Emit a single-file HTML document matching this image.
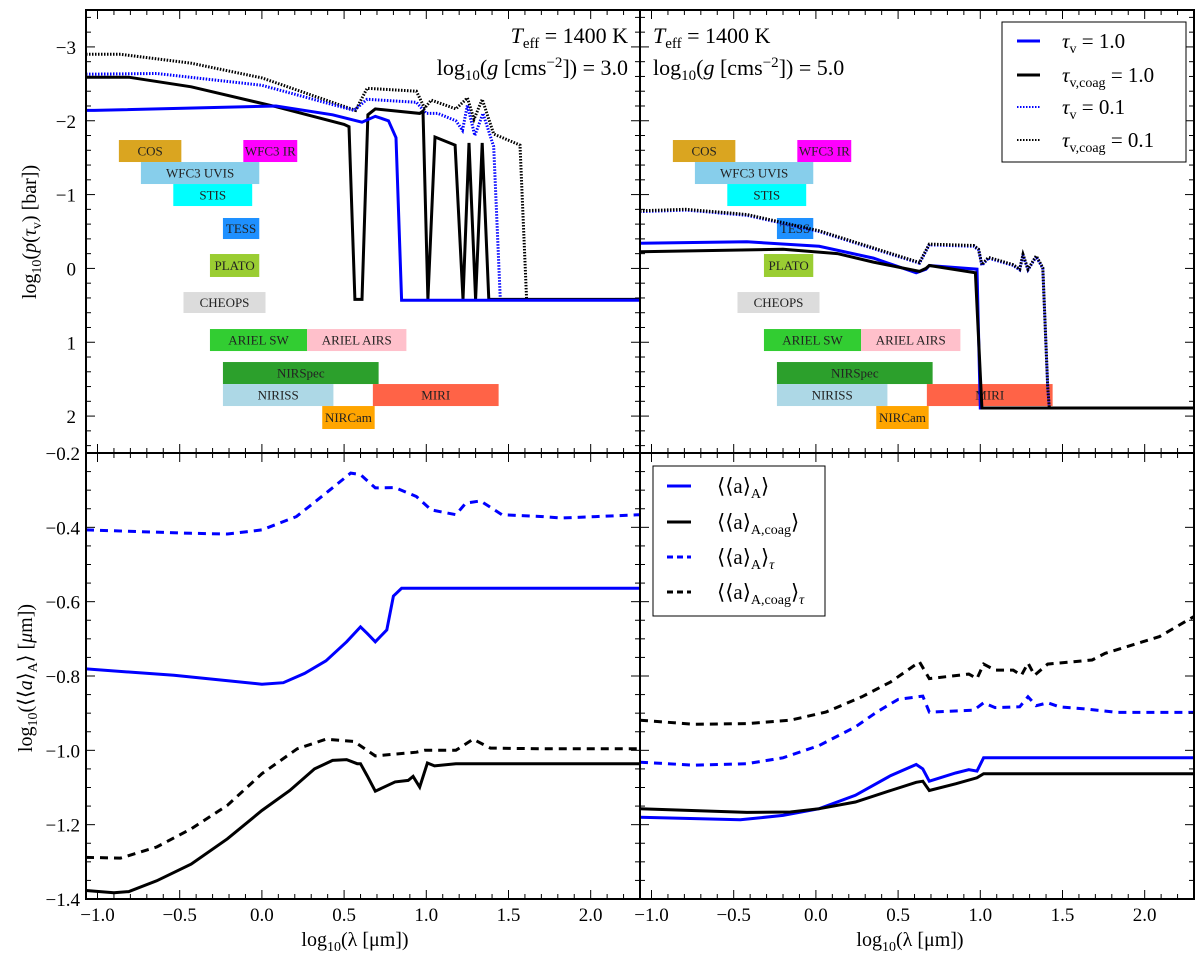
<!DOCTYPE html>
<html><head><meta charset="utf-8">
<style>
html,body{margin:0;padding:0;background:#fff;}
svg{display:block;font-family:"Liberation Serif","DejaVu Serif",serif;}
</style></head>
<body>
<svg id="chart" width="1200" height="955" viewBox="0 0 1200 955" xmlns="http://www.w3.org/2000/svg">
<g id="layer"></g>
</svg>
<script>
// ---------- data ----------
const TL_tau1_x=[-1.07,-1.02,0.086,0.43,0.609,0.69,0.77,0.816,0.85,2.3];
const TL_tau1_y=[-2.14,-2.14,-2.2,-2.08,-1.98,-2.06,-2.0,-1.77,0.43,0.43];
const TL_coag1_x=[-1.07,-0.81,-0.43,0.086,0.50,0.53,0.566,0.609,0.645,0.69,0.96,0.98,1.01,1.053,1.175,1.223,1.26,1.30,1.34,1.38,2.3];
const TL_coag1_y=[-2.59,-2.59,-2.46,-2.19,-1.95,-1.92,0.42,0.42,-2.08,-2.16,-2.1,-2.13,0.42,-1.78,-1.67,0.42,-1.7,0.42,-1.7,0.42,0.42];
const TL_tau01_x=[-1.07,-0.64,0.0,0.56,0.64,0.94,1.0,1.07,1.18,1.22,1.25,1.295,1.345,1.41,1.45];
const TL_tau01_y=[-2.63,-2.64,-2.48,-2.14,-2.29,-2.25,-2.1,-2.1,-2.0,-1.87,-2.21,-1.8,-2.1,-1.65,0.42];
const TL_coag01_x=[-1.07,-0.86,-0.43,0.0,0.57,0.64,0.94,0.99,1.03,1.18,1.25,1.29,1.34,1.41,1.57,1.61];
const TL_coag01_y=[-2.9,-2.9,-2.78,-2.58,-2.14,-2.44,-2.4,-2.17,-2.28,-2.16,-2.31,-2.02,-2.29,-1.82,-1.67,0.42];

const TR_tau1_x=[-1.07,-0.42,0.02,0.35,0.61,0.67,0.69,0.98,1.0,2.3];
const TR_tau1_y=[-0.34,-0.36,-0.30,-0.14,0.06,0.01,-0.04,0.01,1.89,1.89];
const TR_coag1_x=[-1.07,-0.20,0.13,0.35,0.63,0.67,0.69,0.97,1.01,2.3];
const TR_coag1_y=[-0.225,-0.26,-0.2,-0.085,0.04,0.0,-0.04,0.06,1.89,1.89];
const TR_tau01_x=[-1.07,-0.79,-0.42,0.02,0.63,0.69,0.96,0.99,1.01,1.05,1.20,1.24,1.26,1.29,1.34,1.38,1.41,1.42];
const TR_tau01_y=[-0.77,-0.79,-0.72,-0.5,-0.07,-0.32,-0.3,-0.25,-0.04,-0.14,-0.04,0.02,-0.18,0.02,-0.16,0.0,1.6,1.89];
const TR_coag01_x=[-1.07,-0.79,-0.42,0.02,0.63,0.69,0.96,0.99,1.01,1.05,1.20,1.24,1.26,1.29,1.34,1.38,1.41,1.42];
const TR_coag01_y=[-0.78,-0.8,-0.73,-0.51,-0.08,-0.33,-0.31,-0.26,-0.05,-0.15,-0.05,0.01,-0.19,0.01,-0.17,-0.01,1.6,1.89];

const BL_a_x=[-1.07,-0.535,0.0,0.13,0.26,0.39,0.515,0.60,0.64,0.69,0.76,0.80,0.85,2.3];
const BL_a_y=[-0.781,-0.798,-0.822,-0.818,-0.793,-0.759,-0.708,-0.668,-0.685,-0.708,-0.676,-0.585,-0.564,-0.564];
const BL_ac_x=[-1.07,-0.9,-0.81,-0.64,-0.43,-0.21,0.0,0.17,0.32,0.43,0.515,0.58,0.60,0.64,0.69,0.81,0.89,0.92,0.96,1.007,1.05,1.18,2.3];
const BL_ac_y=[-1.377,-1.383,-1.38,-1.351,-1.306,-1.238,-1.162,-1.108,-1.05,-1.027,-1.025,-1.036,-1.036,-1.068,-1.11,-1.085,-1.081,-1.07,-1.099,-1.034,-1.042,-1.036,-1.036];
const BL_at_x=[-1.07,-0.43,-0.21,0.0,0.21,0.39,0.54,0.60,0.69,0.81,0.94,1.03,1.18,1.24,1.33,1.46,1.71,1.82,2.03,2.3];
const BL_at_y=[-0.407,-0.416,-0.418,-0.407,-0.371,-0.308,-0.254,-0.258,-0.294,-0.293,-0.317,-0.353,-0.366,-0.335,-0.329,-0.366,-0.371,-0.375,-0.371,-0.366];
const BL_act_x=[-1.07,-0.86,-0.64,-0.43,-0.21,0.0,0.215,0.39,0.56,0.69,0.94,0.99,1.18,1.285,1.39,1.71,2.3];
const BL_act_y=[-1.288,-1.29,-1.26,-1.211,-1.148,-1.063,-0.996,-0.970,-0.976,-1.015,-1.005,-1.0,-1.0,-0.970,-0.994,-0.996,-0.996];

const BR_a_x=[-1.07,-0.46,-0.20,0.02,0.24,0.455,0.61,0.65,0.69,0.85,0.93,0.98,1.02,2.3];
const BR_a_y=[-1.18,-1.187,-1.175,-1.157,-1.121,-1.068,-1.038,-1.05,-1.083,-1.061,-1.052,-1.056,-1.02,-1.02];
const BR_ac_x=[-1.07,-0.42,-0.155,0.02,0.24,0.455,0.61,0.65,0.69,0.85,0.98,1.02,2.3];
const BR_ac_y=[-1.157,-1.167,-1.166,-1.157,-1.139,-1.108,-1.086,-1.083,-1.108,-1.09,-1.074,-1.063,-1.063];
const BR_at_x=[-1.07,-0.74,-0.42,-0.20,0.02,0.24,0.37,0.50,0.65,0.69,0.96,1.02,1.09,1.24,1.29,1.34,1.41,1.48,1.65,1.83,2.3];
const BR_at_y=[-1.032,-1.04,-1.036,-1.02,-0.987,-0.937,-0.897,-0.863,-0.854,-0.897,-0.892,-0.872,-0.885,-0.883,-0.856,-0.88,-0.872,-0.883,-0.889,-0.898,-0.898];
const BR_act_x=[-1.07,-0.74,-0.42,-0.155,0.06,0.28,0.455,0.63,0.69,0.93,0.98,1.02,1.09,1.20,1.25,1.29,1.33,1.41,1.68,1.76,2.09,2.3];
const BR_act_y=[-0.919,-0.93,-0.928,-0.919,-0.897,-0.856,-0.816,-0.762,-0.807,-0.795,-0.807,-0.768,-0.784,-0.784,-0.798,-0.765,-0.798,-0.768,-0.757,-0.739,-0.694,-0.64];

const instNames=["COS","WFC3 IR","WFC3 UVIS","STIS","TESS","PLATO","CHEOPS","ARIEL SW","ARIEL AIRS","NIRSpec","NIRISS","MIRI","NIRCam"];
const instX0=[-0.87,-0.113,-0.736,-0.539,-0.237,-0.316,-0.477,-0.316,0.275,-0.237,-0.237,0.675,0.367];
const instX1=[-0.49,0.215,-0.016,-0.059,-0.016,-0.016,0.022,0.275,0.879,0.71,0.435,1.44,0.686];
const instY0=[-1.739,-1.739,-1.441,-1.143,-0.683,-0.195,0.32,0.821,0.821,1.268,1.566,1.566,1.864];
const instY1=[-1.441,-1.441,-1.143,-0.845,-0.398,0.116,0.604,1.119,1.119,1.566,1.864,1.864,2.175];
const instColors=["#DAA520","#FF00FF","#87CEEB","#00FFFF","#1E90FF","#9ACD32","#DCDCDC","#32CD32","#FFC0CB","#2CA02C","#ADD8E6","#FF6347","#FFA500"];

const xTicks=[-1.0,-0.5,0.0,0.5,1.0,1.5,2.0];
const xTickLabels=["\u22121.0","\u22120.5","0.0","0.5","1.0","1.5","2.0"];
const topYTicks=[-3,-2,-1,0,1,2];
const topYLabels=["\u22123","\u22122","\u22121","0","1","2"];
const botYTicks=[-0.2,-0.4,-0.6,-0.8,-1.0,-1.2,-1.4];
const botYLabels=["\u22120.2","\u22120.4","\u22120.6","\u22120.8","\u22121.0","\u22121.2","\u22121.4"];

// ---------- helpers ----------
const NS="http://www.w3.org/2000/svg";
const layer=document.getElementById('layer');
function mk(tag,attrs,parent){const e=document.createElementNS(NS,tag);for(const k in attrs)e.setAttribute(k,attrs[k]);(parent||layer).appendChild(e);return e;}
const XMIN=-1.07,XMAX=2.3;
function panel(x0,x1,y0,y1,ymin,ymax){return {x0,x1,y0,y1,ymin,ymax,
  sx:v=>x0+(v-XMIN)/(XMAX-XMIN)*(x1-x0),
  sy:v=>y0+(v-ymin)/(ymax-ymin)*(y1-y0)};}
const PTL=panel(86,640,10,453,-3.5,2.5);
const PTR=panel(640,1194,10,453,-3.5,2.5);
const PBL=panel(86,640,453,899,-0.2,-1.4);
const PBR=panel(640,1194,453,899,-0.2,-1.4);

function line(P,xs,ys,color,dash,w,name){
  let d='';
  for(let i=0;i<xs.length;i++){d+=(i?'L':'M')+P.sx(xs[i]).toFixed(1)+' '+P.sy(ys[i]).toFixed(1);}
  const el=mk('path',{d:d,fill:'none',stroke:color,'stroke-width':w,'stroke-linejoin':'miter','clip-path':'url(#clip-'+P.x0+'-'+P.y0+')'});
  if(dash)el.setAttribute('stroke-dasharray',dash);
  
  
  return el;
}
const defs=mk('defs',{});
[PTL,PTR,PBL,PBR].forEach(P=>{
  const c=mk('clipPath',{id:'clip-'+P.x0+'-'+P.y0},defs);
  mk('rect',{x:P.x0,y:P.y0,width:P.x1-P.x0,height:P.y1-P.y0},c);
});

function instruments(P,side){
  for(let i=0;i<instNames.length;i++){
    const g=mk('g',{});
    
    
    const x0=P.sx(instX0[i]),x1=P.sx(instX1[i]),y0=P.sy(instY0[i]),y1=P.sy(instY1[i]);
    mk('rect',{x:x0,y:y0,width:x1-x0,height:y1-y0,fill:instColors[i]},g);
    const t=mk('text',{x:(x0+x1)/2,y:(y0+y1)/2+4.5,'text-anchor':'middle','font-size':13,fill:'#222'},g);
    t.textContent=instNames[i];
  }
}

function frame(P,yMajor,yMinorStep,yMinorFrom,yMinorTo,name){
  const g=mk('g',{});
  
  
  for(let k=-10;k<=23;k++){
    const v=k/10; const x=P.sx(v);
    if(x<P.x0+0.5||x>P.x1-0.5)continue;
    const maj=(k%5===0); const L=maj?9:5;
    mk('line',{x1:x,x2:x,y1:P.y1,y2:P.y1-L,stroke:'#000','stroke-width':1},g);
    mk('line',{x1:x,x2:x,y1:P.y0,y2:P.y0+L,stroke:'#000','stroke-width':1},g);
  }
  for(let v=yMinorFrom; v<=yMinorTo+1e-9; v+=yMinorStep){
    const y=P.sy(v); if(y<P.y0+1||y>P.y1-1)continue;
    const maj=yMajor.some(m=>Math.abs(m-v)<1e-6); const L=maj?9:5;
    mk('line',{x1:P.x0,x2:P.x0+L,y1:y,y2:y,stroke:'#000','stroke-width':1},g);
    mk('line',{x1:P.x1,x2:P.x1-L,y1:y,y2:y,stroke:'#000','stroke-width':1},g);
  }
  mk('rect',{x:P.x0,y:P.y0,width:P.x1-P.x0,height:P.y1-P.y0,fill:'none',stroke:'#000','stroke-width':2},g);
}

// ---------- top left ----------
instruments(PTL,'left');
line(PTL,TL_coag01_x,TL_coag01_y,'#000','1.5,1.5',3,'line-tau-coag-0.1-logg3');
line(PTL,TL_tau01_x,TL_tau01_y,'#0000ff','1.5,1.5',3,'line-tau-0.1-logg3');
line(PTL,TL_coag1_x,TL_coag1_y,'#000',null,3,'line-tau-coag-1.0-logg3');
line(PTL,TL_tau1_x,TL_tau1_y,'#0000ff',null,3,'line-tau-1.0-logg3');
frame(PTL,[-3,-2,-1,0,1,2],0.2,-3.4,2.4,'top-left-axes-frame');

// ---------- top right ----------
instruments(PTR,'right');
line(PTR,TR_tau01_x,TR_tau01_y,'#0000ff','1.5,1.5',3,'line-tau-0.1-logg5');
line(PTR,TR_coag01_x,TR_coag01_y,'#000','1.5,1.5',3,'line-tau-coag-0.1-logg5');
line(PTR,TR_tau1_x,TR_tau1_y,'#0000ff',null,3,'line-tau-1.0-logg5');
line(PTR,TR_coag1_x,TR_coag1_y,'#000',null,3,'line-tau-coag-1.0-logg5');
frame(PTR,[-3,-2,-1,0,1,2],0.2,-3.4,2.4,'top-right-axes-frame');

// ---------- bottom left ----------
line(PBL,BL_at_x,BL_at_y,'#0000ff','8,6',3,'line-a-tau-logg3');
line(PBL,BL_a_x,BL_a_y,'#0000ff',null,3,'line-a-logg3');
line(PBL,BL_act_x,BL_act_y,'#000','8,6',3,'line-a-coag-tau-logg3');
line(PBL,BL_ac_x,BL_ac_y,'#000',null,3,'line-a-coag-logg3');
frame(PBL,[-0.2,-0.4,-0.6,-0.8,-1.0,-1.2,-1.4],0.05,-1.4,-0.2,'bottom-left-axes-frame');

// ---------- bottom right ----------
line(PBR,BR_act_x,BR_act_y,'#000','8,6',3,'line-a-coag-tau-logg5');
line(PBR,BR_at_x,BR_at_y,'#0000ff','8,6',3,'line-a-tau-logg5');
line(PBR,BR_a_x,BR_a_y,'#0000ff',null,3,'line-a-logg5');
line(PBR,BR_ac_x,BR_ac_y,'#000',null,3,'line-a-coag-logg5');
frame(PBR,[-0.2,-0.4,-0.6,-0.8,-1.0,-1.2,-1.4],0.05,-1.4,-0.2,'bottom-right-axes-frame');

// ---------- tick labels ----------
for(let i=0;i<topYTicks.length;i++){
  const t=mk('text',{x:76,y:PTL.sy(topYTicks[i])+7,'text-anchor':'end','font-size':19});
  t.textContent=topYLabels[i];
  
  
}
for(let i=0;i<botYTicks.length;i++){
  const t=mk('text',{x:80,y:PBL.sy(botYTicks[i])+7,'text-anchor':'end','font-size':19});
  t.textContent=botYLabels[i];
  
  
}
[PBL,PBR].forEach(P=>{
  for(let i=0;i<xTicks.length;i++){
    const t=mk('text',{x:P.sx(xTicks[i]),y:921,'text-anchor':'middle','font-size':19});
    t.textContent=xTickLabels[i];
    
    
  }
});
</script>

<svg width="1200" height="955" viewBox="0 0 1200 955" style="position:absolute;left:0;top:0;font-family:'Liberation Serif','DejaVu Serif',serif">
  <text x="355" y="946" text-anchor="middle" font-size="20">log<tspan font-size="14" dy="5">10</tspan><tspan dy="-5">(λ [μm])</tspan></text>
  <text x="910" y="946" text-anchor="middle" font-size="20">log<tspan font-size="14" dy="5">10</tspan><tspan dy="-5">(λ [μm])</tspan></text>
  <text transform="translate(36,232) rotate(-90)" text-anchor="middle" font-size="20">log<tspan font-size="14" dy="5">10</tspan><tspan dy="-5">(</tspan><tspan font-style="italic">p</tspan>(<tspan font-style="italic">τ</tspan><tspan font-size="14" dy="5">v</tspan><tspan dy="-5">) [bar])</tspan></text>
  <text transform="translate(32,678) rotate(-90)" text-anchor="middle" font-size="20">log<tspan font-size="14" dy="5">10</tspan><tspan dy="-5">(⟨⟨</tspan><tspan font-style="italic">a</tspan>⟩<tspan font-size="14" dy="5">A</tspan><tspan dy="-5">⟩ [</tspan><tspan font-style="italic">μ</tspan>m])</text>

  <text x="628" y="43" text-anchor="end" font-size="22"><tspan font-style="italic">T</tspan><tspan font-size="15" dy="5">eff</tspan><tspan dy="-5"> = 1400 K</tspan></text>
  <text x="628" y="75" text-anchor="end" font-size="22">log<tspan font-size="15" dy="5">10</tspan><tspan dy="-5">(</tspan><tspan font-style="italic">g</tspan> [cms<tspan font-size="15" dy="-8">−2</tspan><tspan dy="8">]) = 3.0</tspan></text>
  <text x="653" y="43" font-size="22"><tspan font-style="italic">T</tspan><tspan font-size="15" dy="5">eff</tspan><tspan dy="-5"> = 1400 K</tspan></text>
  <text x="653" y="75" font-size="22">log<tspan font-size="15" dy="5">10</tspan><tspan dy="-5">(</tspan><tspan font-style="italic">g</tspan> [cms<tspan font-size="15" dy="-8">−2</tspan><tspan dy="8">]) = 5.0</tspan></text>

  <g>
    <rect x="1002" y="22" width="184" height="140" fill="#fff" stroke="#000" stroke-width="1"/>
    <g>
      <line x1="1017" x2="1040" y1="41" y2="41" stroke="#0000ff" stroke-width="3"/>
      <text x="1062" y="48" font-size="21"><tspan font-style="italic">τ</tspan><tspan font-size="14" dy="5">v</tspan><tspan dy="-5"> = 1.0</tspan></text>
    </g>
    <g>
      <line x1="1017" x2="1040" y1="75" y2="75" stroke="#000" stroke-width="3"/>
      <text x="1062" y="82" font-size="21"><tspan font-style="italic">τ</tspan><tspan font-size="14" dy="5">v,coag</tspan><tspan dy="-5"> = 1.0</tspan></text>
    </g>
    <g>
      <line x1="1017" x2="1040" y1="107" y2="107" stroke="#0000ff" stroke-width="2" stroke-dasharray="1.5,1.5"/>
      <text x="1062" y="114" font-size="21"><tspan font-style="italic">τ</tspan><tspan font-size="14" dy="5">v</tspan><tspan dy="-5"> = 0.1</tspan></text>
    </g>
    <g>
      <line x1="1017" x2="1040" y1="140" y2="140" stroke="#000" stroke-width="2" stroke-dasharray="1.5,1.5"/>
      <text x="1062" y="147" font-size="21"><tspan font-style="italic">τ</tspan><tspan font-size="14" dy="5">v,coag</tspan><tspan dy="-5"> = 0.1</tspan></text>
    </g>
  </g>

  <g>
    <rect x="653" y="466" width="172" height="150" fill="#fff" stroke="#000" stroke-width="1"/>
    <g>
      <line x1="667" x2="691" y1="486" y2="486" stroke="#0000ff" stroke-width="3"/>
      <text x="717" y="493" font-size="21">⟨⟨a⟩<tspan font-size="14" dy="5">A</tspan><tspan dy="-5">⟩</tspan></text>
    </g>
    <g>
      <line x1="667" x2="691" y1="522" y2="522" stroke="#000" stroke-width="3"/>
      <text x="717" y="529" font-size="21">⟨⟨a⟩<tspan font-size="14" dy="5">A,coag</tspan><tspan dy="-5">⟩</tspan></text>
    </g>
    <g>
      <line x1="667" x2="691" y1="557" y2="557" stroke="#0000ff" stroke-width="3" stroke-dasharray="6,4"/>
      <text x="717" y="564" font-size="21">⟨⟨a⟩<tspan font-size="14" dy="5">A</tspan><tspan dy="-5">⟩</tspan><tspan font-style="italic" font-size="14" dy="5">τ</tspan></text>
    </g>
    <g>
      <line x1="667" x2="691" y1="592" y2="592" stroke="#000" stroke-width="3" stroke-dasharray="6,4"/>
      <text x="717" y="599" font-size="21">⟨⟨a⟩<tspan font-size="14" dy="5">A,coag</tspan><tspan dy="-5">⟩</tspan><tspan font-style="italic" font-size="14" dy="5">τ</tspan></text>
    </g>
  </g>
</svg>
</body></html>
